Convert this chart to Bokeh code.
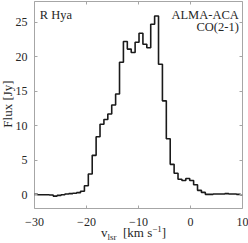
from bokeh.plotting import figure
from bokeh.models import Label, LinearAxis, FixedTicker, Range1d, Div
from bokeh.embed import file_html
from bokeh.resources import INLINE

# channel centres (km/s) and flux (Jy)
velocity = [-30.525, -29.775, -29.025, -28.275, -27.525, -26.775, -26.025, -25.275,
            -24.525, -23.775, -23.025, -22.275, -21.525, -20.775,
            -20.025, -19.275, -18.525, -17.775, -17.025, -16.275, -15.525, -14.775,
            -14.025, -13.275, -12.525, -11.775, -11.025, -10.275, -9.525, -8.775,
            -8.025, -7.275, -6.525,
            -5.775, -5.025, -4.275, -3.525, -2.775, -2.025, -1.275, -0.525, 0.225,
            0.975, 1.725, 2.475,
            3.225, 3.975, 4.725, 5.475, 6.225, 6.975, 7.725, 8.475, 9.225, 9.975]
flux = [0.05, 0.05, 0.0, 0.0, 0.0, -0.05, -0.2, -0.1,
        0.0, 0.1, 0.15, 0.2, 0.3, 0.5,
        1.3, 3.0, 5.7, 8.4, 10.2, 10.9, 11.7, 13.0,
        14.6, 19.2, 22.2, 21.1, 20.6, 22.1, 23.4, 21.8,
        21.3, 24.7, 25.9,
        18.9, 13.6, 8.1, 4.4, 3.1, 2.25, 2.05, 2.35, 2.05,
        1.45, 0.63, 0.33,
        0.05, 0.05, 0.1, 0.1, 0.1, 0.15, 0.1, 0.1, 0.05, 0.0]

x_ticks = [-30, -20, -10, 0, 10]
y_ticks = [0, 5, 10, 15, 20, 25]

FONT = "Liberation Serif"
FRAME = "#a6a6a6"
TXT = "#262626"

p = figure(width=248, height=243, output_backend="svg", toolbar_location=None,
           x_range=Range1d(-30, 10), y_range=Range1d(-2, 28),
           min_border_left=34, min_border_right=6, min_border_top=1, min_border_bottom=35,
           x_axis_location=None, y_axis_location=None,
           styles={"position": "absolute", "top": "0px", "left": "0px"})
p.grid.visible = False
p.outline_line_color = FRAME
p.outline_line_width = 1
p.background_fill_color = "white"
p.border_fill_color = "white"

def make_axis(ticks, labels=True):
    ax = LinearAxis(ticker=FixedTicker(ticks=ticks))
    ax.axis_line_color = None
    ax.major_tick_in = 3
    ax.major_tick_out = 0
    ax.major_tick_line_color = FRAME
    ax.minor_tick_line_color = None
    ax.major_label_text_font = FONT
    ax.major_label_text_font_size = "12px"
    ax.major_label_text_color = TXT
    if not labels:
        ax.major_label_overrides = {t: "" for t in ticks}
        ax.major_label_standoff = 0
    return ax

xb = make_axis(x_ticks)
xb.major_label_standoff = 9
p.add_layout(xb, "below")
yl = make_axis(y_ticks)
yl.major_label_standoff = 7
p.add_layout(yl, "left")
p.add_layout(make_axis(x_ticks, labels=False), "above")
p.add_layout(make_axis(y_ticks, labels=False), "right")

p.step(x=velocity, y=flux, mode="center", line_color="#1a1a1a", line_width=1.6)

def lab(text, x, y, align="left"):
    p.add_layout(Label(x=x, y=y, text=text,
                       text_font=FONT, text_font_size="12.5px", text_color=TXT,
                       text_align=align, text_baseline="alphabetic"))

lab("R Hya", -28.98, 26.08)
lab("ALMA-ACA", 9.29, 26.08, align="right")
lab("CO(2-1)", 9.29, 24.27, align="right")

# x-axis label: v_lsr [km s^-1]
xlabel = Div(
    text='v<span style="font-size:9px;position:relative;top:3px">lsr</span>'
         '&nbsp;&nbsp;[km s<span style="font-size:9px;position:relative;top:-5px">\u22121</span>]',
    width=110, height=18, margin=0,
    styles={"position": "absolute", "left": "101px", "top": "226px",
            "font-family": FONT, "font-size": "13px", "line-height": "13px",
            "color": TXT, "white-space": "nowrap"})

# y-axis label, rotated
ylabel = Div(
    text="Flux [Jy]",
    width=80, height=14, margin=0,
    styles={"position": "absolute", "left": "-32px", "top": "97px",
            "transform": "rotate(-90deg)", "text-align": "center",
            "font-family": FONT, "font-size": "13px", "line-height": "14px",
            "color": TXT, "white-space": "nowrap"})

open("out.html", "w").write(file_html([p, xlabel, ylabel], INLINE))
